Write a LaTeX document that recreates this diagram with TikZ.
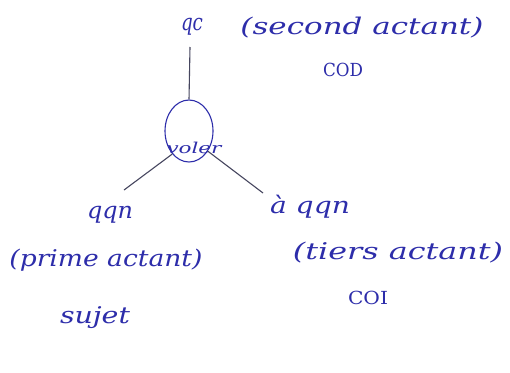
\documentclass[tikz,border=0pt]{standalone}
\usepackage{fontspec}
\usetikzlibrary{shapes.geometric}
\newfontfamily\hand{DejaVu Serif}
\definecolor{ink}{RGB}{45,45,170}
\definecolor{pencil}{RGB}{70,70,95}
\newcommand\hw[2]{\resizebox{#1}{\height}{#2}}
\begin{document}
\begin{tikzpicture}[x=1pt,y=-1pt,
  lbl/.style={text=ink,font=\hand\itshape\fontsize{23}{25}\selectfont,inner sep=0pt},
  caplbl/.style={text=ink,font=\hand\fontsize{18}{20}\selectfont,inner sep=0pt},
  stroke/.style={draw=pencil,line width=1.1pt}]
\useasboundingbox[fill=white] (0,0) rectangle (510,372);
\node[lbl] (qc) at (192,27) {\hw{22pt}{qc}};
\node[lbl] (sa) at (362,28) {\hw{243pt}{(second actant)}};
\node[caplbl] (cod) at (343,70) {\hw{40pt}{COD}};
\coordinate (top) at (190,47);
\node[draw=ink,line width=1.1pt,ellipse,minimum width=48pt,minimum height=62pt,inner sep=0pt] (v) at (189,131) {};
\node[lbl,font=\hand\itshape\fontsize{15}{16}\selectfont] (voler) at (194,148) {\hw{55pt}{voler}};
\coordinate (l) at (124,190);
\coordinate (r) at (263,193);
\draw[stroke] (top) -- (v.north);
\draw[stroke] (v.234) -- (l);
\draw[stroke] (v.-47) -- (r);
\node[lbl] (qqn) at (110,215) {\hw{46pt}{qqn}};
\node[lbl] (pa) at (106,260) {\hw{193pt}{(prime actant)}};
\node[lbl] (suj) at (95,318) {\hw{70pt}{sujet}};
\node[lbl] (aqqn) at (310,207) {\hw{80pt}{à qqn}};
\node[lbl] (ta) at (398,253) {\hw{210pt}{(tiers actant)}};
\node[caplbl] (coi) at (368,298) {\hw{40pt}{COI}};
\end{tikzpicture}
\end{document}
